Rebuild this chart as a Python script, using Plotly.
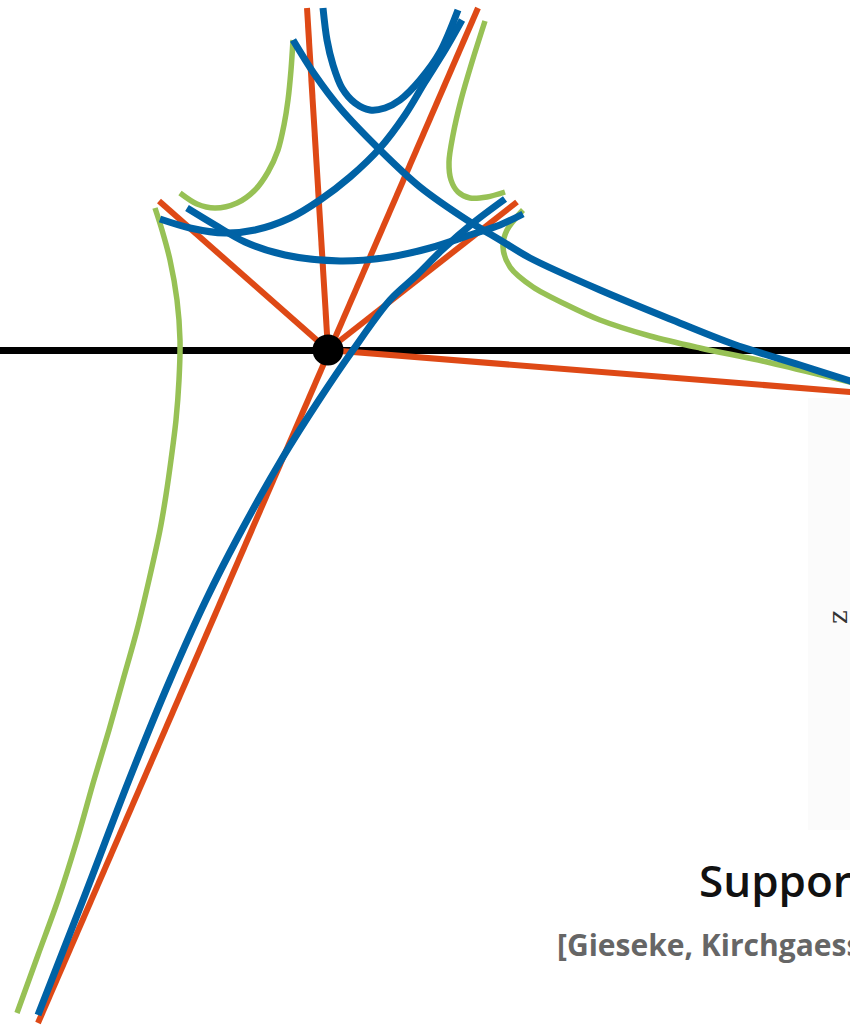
import plotly.graph_objects as go

# Coordinates: origin at the support point, x to the right, y up.
# Orange rays through the support point (pairs of endpoints, None separates).
orange_x = [-21, 0, None, 150, -290, None, -169, 0, None, 189, 0, None, 0, 560]
orange_y = [342, 0, None, 342, -673, None, 149, 0, None, 148, 0, None, 0, -45]

# Blue curves
blue_a_x = [-5, -1, 5, 14, 27, 42, 57, 72, 92, 112, 130]
blue_a_y = [342, 310, 285, 262, 247, 240, 242, 250, 270, 298, 340]

blue_b_x = [-35, -13, 12, 52, 92, 142, 172, 202, 272, 342, 405, 472, 522, 552]
blue_b_y = [310, 275, 242, 200, 163, 128, 110, 92, 60, 31, 6, -15, -31, -40]

blue_c_x = [134, 117, 97, 77, 52, 22, -8, -38, -73, -103, -138, -168]
blue_c_y = [330, 300, 268, 235, 202, 173, 150, 132, 120, 117, 122, 131]

blue_d_x = [-141, -113, -83, -43, 12, 62, 102, 142, 172, 195]
blue_d_y = [142, 125, 108, 95, 89, 93, 102, 115, 125, 136]

blue_e_x = [177, 145, 114, 89, 62, 25, -9, -45, -90, -122, -158, -199, -245, -290]
blue_e_y = [151, 127, 100, 75, 50, 0, -50, -107, -187, -250, -330, -430, -550, -665]

# Green curves
green_a_x = [-35, -37, -40, -44, -50, -60, -73, -91, -113, -131, -148]
green_a_y = [310, 280, 250, 225, 200, 178, 160, 147, 142, 146, 157]

green_b_x = [-173, -166, -158, -151, -148, -149, -152, -157, -162, -168, -179, -191,
             -205, -219, -234, -251, -270, -290, -311]
green_b_y = [142, 120, 90, 50, 10, -30, -70, -110, -145, -180, -230, -280,
             -330, -380, -430, -490, -550, -605, -663]

green_c_x = [157, 144, 133, 125, 121, 123, 130, 142, 159, 177]
green_c_y = [329, 288, 250, 215, 188, 170, 158, 152, 153, 158]

green_d_x = [195, 179, 175, 182, 205, 239, 272, 322, 372, 439, 522, 552]
green_d_y = [140, 120, 103, 83, 63, 45, 30, 14, 2, -12, -32, -39]

support_x = [0]
support_y = [0]

title_text = "Support"
subtitle_text = "[Gieseke, Kirchgaessner"

ORANGE = "#DE4916"
BLUE = "#0062A5"
GREEN = "#97C155"

fig = go.Figure()

for gx, gy in [(green_a_x, green_a_y), (green_b_x, green_b_y),
               (green_c_x, green_c_y), (green_d_x, green_d_y)]:
    fig.add_trace(go.Scatter(x=gx, y=gy, mode="lines",
                             line=dict(color=GREEN, width=5.5, shape="spline", smoothing=0.9),
                             hoverinfo="skip"))

fig.add_trace(go.Scatter(x=orange_x, y=orange_y, mode="lines",
                         line=dict(color=ORANGE, width=6), hoverinfo="skip"))

for bx, by in [(blue_a_x, blue_a_y), (blue_b_x, blue_b_y), (blue_c_x, blue_c_y),
               (blue_d_x, blue_d_y), (blue_e_x, blue_e_y)]:
    fig.add_trace(go.Scatter(x=bx, y=by, mode="lines",
                             line=dict(color=BLUE, width=7, shape="spline", smoothing=0.9),
                             hoverinfo="skip"))

fig.add_trace(go.Scatter(x=support_x, y=support_y, mode="markers",
                         marker=dict(color="black", size=31, line=dict(width=0)),
                         hoverinfo="skip"))

# Faint panel on the right edge with its axis label
fig.add_shape(type="rect", xref="paper", yref="paper",
              x0=808 / 850, x1=1.0, y0=1 - 830 / 1027, y1=1 - 398 / 1027,
              fillcolor="#FBFBFB", line=dict(width=0), layer="below")

fig.add_annotation(xref="paper", yref="paper", x=836 / 850, y=1 - 617 / 1027,
                   xanchor="center", yanchor="middle", xshift=2,
                   text="z", showarrow=False, textangle=-90,
                   font=dict(family="DejaVu Serif", size=26, color="#333333"))

fig.add_annotation(xref="paper", yref="paper", x=697 / 850, y=1 - 880 / 1027,
                   xanchor="left", yanchor="middle", text=title_text, showarrow=False,
                   font=dict(family="Open Sans", size=44, color="#111111", weight=600))

fig.add_annotation(xref="paper", yref="paper", x=555 / 850, y=1 - 944 / 1027,
                   xanchor="left", yanchor="middle", text=subtitle_text, showarrow=False,
                   font=dict(family="Open Sans", size=30, color="#666666", weight=700))

fig.update_layout(
    width=850, height=1027,
    margin=dict(l=0, r=0, t=0, b=0),
    paper_bgcolor="white", plot_bgcolor="white",
    showlegend=False,
    xaxis=dict(range=[-328, 522], showgrid=False, zeroline=False, showticklabels=False,
               ticks="", showline=False, fixedrange=True),
    yaxis=dict(range=[-677, 350], showgrid=False, zeroline=True, zerolinecolor="black",
               zerolinewidth=7, showticklabels=False, ticks="", showline=False,
               fixedrange=True),
)

fig.write_html("out.html")
